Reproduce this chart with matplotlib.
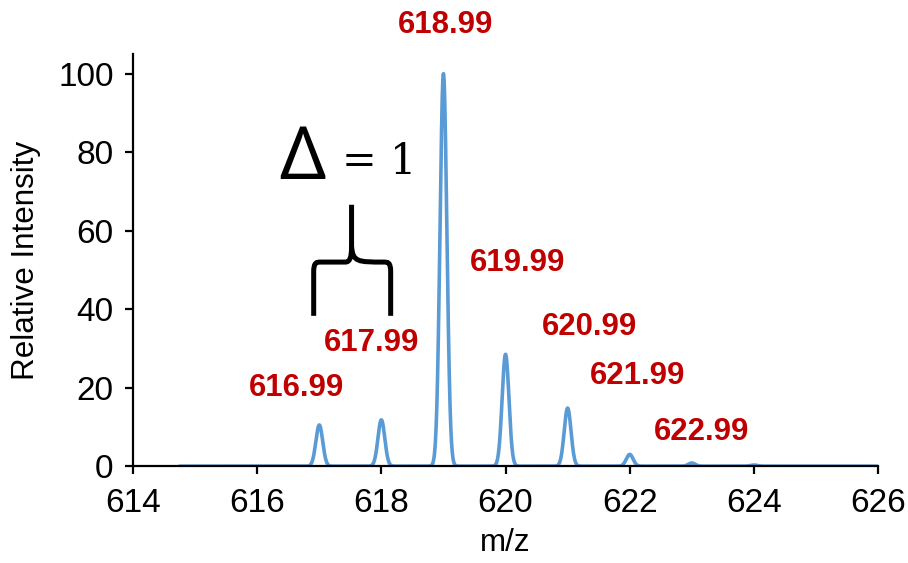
import numpy as np
import matplotlib
matplotlib.use("Agg")
from matplotlib import pyplot as plt
from matplotlib.path import Path
from matplotlib.patches import PathPatch

plt.rcParams['font.family'] = ['Liberation Sans', 'DejaVu Sans']

# isotope peaks
peak_mz = [617.0, 618.0, 619.0, 620.0, 621.0, 622.0, 623.0, 624.0]
peak_int = [10.5, 11.8, 100.0, 28.5, 14.8, 3.0, 0.8, 0.3]
peak_width = 0.055

mz_start, mz_end = 614.75, 626.0

label_text = ['616.99', '617.99', '618.99', '619.99', '620.99', '621.99', '622.99']
label_x = [616.63, 617.84, 619.04, 620.19, 621.35, 622.13, 623.16]
label_y = [19.9, 31.4, 112.5, 51.8, 35.5, 23.0, 8.7]

# profile made of one gaussian per peak
mz = np.linspace(mz_start, mz_end, 4000)
intensity = np.zeros_like(mz)
for c, h in zip(peak_mz, peak_int):
    intensity += h * np.exp(-0.5 * ((mz - c) / peak_width) ** 2)

fig = plt.figure(figsize=(4.54, 2.815), dpi=200)
ax = fig.add_axes([0.1465, 0.172, 0.8205, 0.732])

ax.plot(mz, intensity, color='#5B9BD5', lw=1.3, solid_capstyle='round')

ax.set_xlim(614, 626)
ax.set_ylim(0, 105)
ax.set_xticks(range(614, 627, 2))
ax.set_yticks(range(0, 101, 20))
for s in ['top', 'right']:
    ax.spines[s].set_visible(False)
for s in ['left', 'bottom']:
    ax.spines[s].set_linewidth(0.8)
ax.tick_params(direction='out', length=3, width=0.8, labelsize=12, pad=4)
ax.tick_params(axis='x', pad=5)
ax.set_xlabel('m/z', fontsize=11.3, labelpad=3)
ax.set_ylabel('Relative Intensity', fontsize=11.3, labelpad=6)

for t, x, y in zip(label_text, label_x, label_y):
    ax.text(x, y, t, color='#C00000', fontsize=11.2, fontweight='bold',
            ha='center', va='center', clip_on=False)

# delta annotation with brace
ax.text(616.73, 78, '\u0394', fontsize=26, fontweight='bold',
        family='Noto Sans', ha='center', va='center')
ax.text(617.97, 77.5, '= 1', fontsize=15, family='DejaVu Serif',
        ha='center', va='center')

verts = [(616.91, 38.3), (616.91, 49.5),
         (616.91, 52.0), (616.96, 52.0), (617.02, 52.0),
         (617.42, 52.0),
         (617.50, 52.0), (617.52, 53.5), (617.52, 56.0),
         (617.52, 66.6),
         (617.52, 56.0), (617.54, 52.0), (617.62, 52.0),
         (618.04, 52.0),
         (618.10, 52.0), (618.15, 52.0), (618.15, 49.5),
         (618.15, 38.3)]
codes = [Path.MOVETO, Path.LINETO,
         Path.CURVE4, Path.CURVE4, Path.CURVE4,
         Path.LINETO,
         Path.CURVE4, Path.CURVE4, Path.CURVE4,
         Path.LINETO,
         Path.MOVETO, Path.CURVE4, Path.CURVE4,
         Path.LINETO,
         Path.CURVE4, Path.CURVE4, Path.CURVE4,
         Path.LINETO]
ax.add_patch(PathPatch(Path(verts, codes), fill=False, lw=1.8,
                       edgecolor='black', capstyle='butt'))

fig.savefig('out.png', dpi=200)
